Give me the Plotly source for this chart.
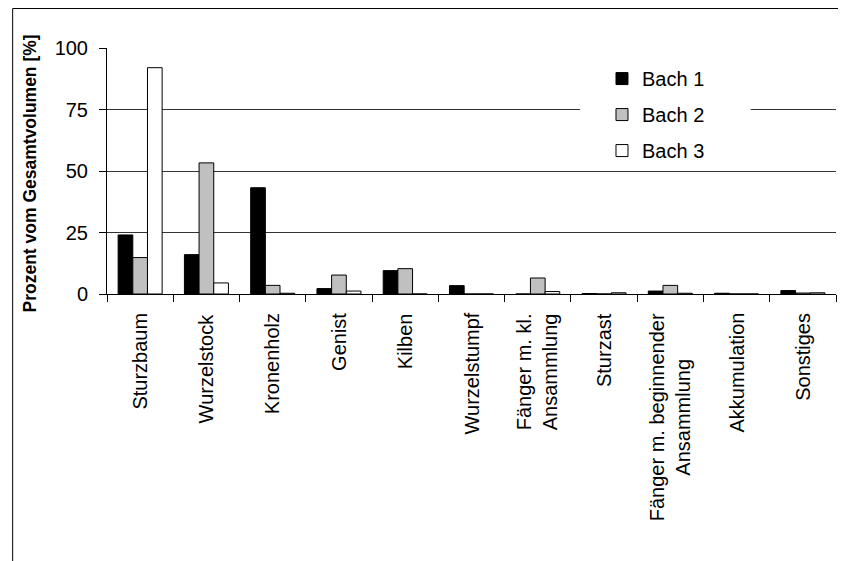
import plotly.graph_objects as go

categories = ["Sturzbaum", "Wurzelstock", "Kronenholz", "Genist", "Kilben", "Wurzelstumpf",
              "Fänger m. kl.<br>Ansammlung", "Sturzast", "Fänger m. beginnender<br>Ansammlung",
              "Akkumulation", "Sonstiges"]
bach1 = [24.0, 16.0, 43.2, 2.2, 9.5, 3.4, 0.0, 0.2, 1.2, 0.3, 1.4]
bach2 = [14.8, 53.3, 3.5, 7.7, 10.3, 0.0, 6.5, 0.0, 3.5, 0.0, 0.4]
bach3 = [92.0, 4.5, 0.3, 1.2, 0.0, 0.0, 1.0, 0.5, 0.3, 0.0, 0.5]
series_names = ["Bach 1", "Bach 2", "Bach 3"]
series_colors = ["#000000", "#c0c0c0", "#ffffff"]
y_ticks = [0, 25, 50, 75, 100]
y_title = "Prozent vom Gesamtvolumen [%]"

fig = go.Figure()
for name, vals, col in zip(series_names, [bach1, bach2, bach3], series_colors):
    fig.add_trace(go.Bar(x=categories, y=vals, name=name, legendgroup=name,
                         marker=dict(color=col, line=dict(color="#000000", width=1))))

FONT = "Liberation Sans, Arial, sans-serif"
fig.update_layout(
    width=846, height=561,
    margin=dict(l=99, r=18, t=40, b=275),
    paper_bgcolor="white", plot_bgcolor="white",
    barmode="group", bargap=0.336, bargroupgap=0,
    font=dict(family=FONT, size=20, color="black"),
    showlegend=True,
    legend=dict(x=0.679, y=0.955, xanchor="left", yanchor="top",
                bgcolor="rgba(0,0,0,0)", font=dict(size=20),
                tracegroupgap=7),
    xaxis=dict(type="category", showline=True, linecolor="black", linewidth=1,
               ticks="outside", ticklen=7, tickcolor="black", tickson="boundaries",
               showgrid=False, automargin=False, showticklabels=False),
    yaxis=dict(range=[0, 100], tickvals=y_ticks, showline=True, linecolor="black", linewidth=1,
               ticks="outside", ticklen=7, tickcolor="black", ticklabelstandoff=7,
               showgrid=True, gridcolor="#333333", gridwidth=1, zeroline=False,
               automargin=False),
)
# category labels, rotated, centred lines
for cat in categories:
    fig.add_annotation(x=cat, xref="x", y=-0.069, yref="paper", text=cat, textangle=-90,
                       xanchor="center", yanchor="top", align="center", showarrow=False,
                       font=dict(size=20, family=FONT, color="black"))
# y axis title
fig.add_annotation(x=-0.1056, xref="paper", y=0.49, yref="paper", text="<b>%s</b>" % y_title,
                   textangle=-90, xanchor="center", yanchor="middle", showarrow=False,
                   font=dict(size=17.5, family=FONT, color="black"))
# white box behind the legend hiding the gridline (legend itself is drawn on top)
fig.add_shape(type="rect", xref="paper", yref="paper", x0=0.649, x1=0.883, y0=0.537, y1=0.951,
              fillcolor="white", line=dict(width=0), layer="above")
# outer chart frame (top and left edges)
fig.add_shape(type="line", xref="paper", yref="paper", x0=-0.1294, x1=1.05, y0=1.1606, y1=1.1606,
              line=dict(color="black", width=1))
fig.add_shape(type="line", xref="paper", yref="paper", x0=-0.1294, x1=-0.1294, y0=1.1606, y1=-1.2,
              line=dict(color="black", width=1))

fig.write_html("out.html")
